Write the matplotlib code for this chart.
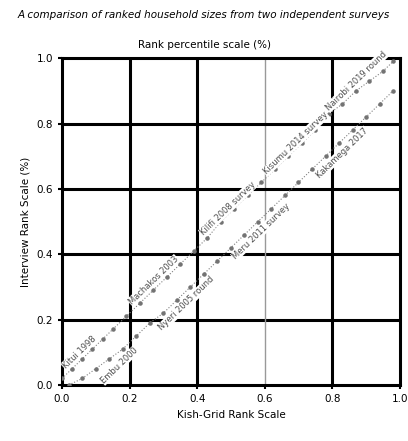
import numpy as np
import matplotlib.pyplot as plt

# two ranked series (approximate)
rank_x_a = [0.00, 0.03, 0.06, 0.09, 0.12, 0.15, 0.19, 0.23, 0.27, 0.31, 0.35, 0.39, 0.43,
            0.47, 0.51, 0.55, 0.59, 0.63, 0.67, 0.71, 0.75, 0.79, 0.83, 0.87, 0.91, 0.95, 0.98]
rank_y_a = [0.02, 0.05, 0.08, 0.11, 0.14, 0.17, 0.21, 0.25, 0.29, 0.33, 0.37, 0.41, 0.45,
            0.50, 0.54, 0.58, 0.62, 0.66, 0.70, 0.74, 0.78, 0.83, 0.86, 0.90, 0.93, 0.96, 0.99]
rank_x_b = [0.02, 0.06, 0.10, 0.14, 0.18, 0.22, 0.26, 0.30, 0.34, 0.38, 0.42, 0.46, 0.50,
            0.54, 0.58, 0.62, 0.66, 0.70, 0.74, 0.78, 0.82, 0.86, 0.90, 0.94, 0.98]
rank_y_b = [0.00, 0.02, 0.05, 0.08, 0.11, 0.15, 0.19, 0.22, 0.26, 0.30, 0.34, 0.38, 0.42,
            0.46, 0.50, 0.54, 0.58, 0.62, 0.66, 0.70, 0.74, 0.78, 0.82, 0.86, 0.90]
labels_a = ['Kitui 1998', 'Machakos 2003', 'Kilifi 2008 survey', 'Kisumu 2014 survey', 'Nairobi 2019 round']
labels_a_x = [0.06, 0.28, 0.50, 0.70, 0.88]
labels_a_y = [0.09, 0.31, 0.53, 0.73, 0.92]
labels_b = ['Embu 2000', 'Nyeri 2005 round', 'Meru 2011 survey', 'Kakamega 2017']
labels_b_x = [0.16, 0.36, 0.58, 0.82]
labels_b_y = [0.07, 0.26, 0.48, 0.72]

ticks = [0.0, 0.2, 0.4, 0.6, 0.8, 1.0]

fig = plt.figure(figsize=(4.08, 4.41), dpi=100)
ax = fig.add_axes([0.152, 0.127, 0.828, 0.741])

for t in ticks[1:-1]:
    c = '0.6' if t == 0.6 else 'black'
    lw = 1 if t == 0.6 else 2.2
    ax.axvline(t, color=c, lw=lw, zorder=0)
    ax.axhline(t, color='black', lw=2.2, zorder=0)

ax.scatter(rank_x_a, rank_y_a, s=5, color='0.45', zorder=3)
ax.scatter(rank_x_b, rank_y_b, s=5, color='0.45', zorder=3)
ax.plot(rank_x_a, rank_y_a, color='0.5', lw=0.8, ls=':', zorder=2)
ax.plot(rank_x_b, rank_y_b, color='0.5', lw=0.8, ls=':', zorder=2)
for s, x, y in zip(labels_a, labels_a_x, labels_a_y):
    ax.text(x, y, s, fontsize=6, rotation=44, ha='center', va='bottom',
            color='0.3', rotation_mode='anchor',
            bbox=dict(facecolor='white', edgecolor='none', pad=0.3))
for s, x, y in zip(labels_b, labels_b_x, labels_b_y):
    ax.text(x, y, s, fontsize=6, rotation=44, ha='center', va='top',
            color='0.3', rotation_mode='anchor',
            bbox=dict(facecolor='white', edgecolor='none', pad=0.3))

ax.set_xlim(0, 1)
ax.set_ylim(0, 1)
ax.set_xticks(ticks)
ax.set_yticks(ticks)
ax.tick_params(labelsize=7.5, length=3, width=1.5)
for sp in ax.spines.values():
    sp.set_linewidth(2.2)

ax.set_xlabel('Kish-Grid Rank Scale', fontsize=7.5)
ax.set_ylabel('Interview Rank Scale (%)', fontsize=7.5)
fig.text(0.5, 0.965, 'A comparison of ranked household sizes from two independent surveys',
         ha='center', va='center', fontsize=7.5, style='italic')
fig.text(0.5, 0.898, 'Rank percentile scale (%)', ha='center', va='center', fontsize=7.5)

fig.savefig('out.png', dpi=100)
